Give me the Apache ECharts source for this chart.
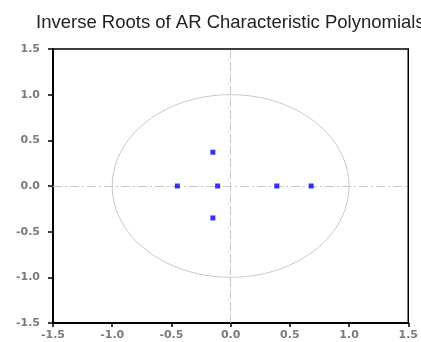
<!DOCTYPE html>
<html>
<head>
<meta charset="utf-8">
<script src="https://cdn.jsdelivr.net/npm/echarts@6/dist/echarts.min.js"></script>
<style>
  html, body { margin: 0; padding: 0; background: #fff; }
  #chart { width: 421px; height: 342px; }
</style>
</head>
<body>
<div id="chart"></div>
<script>
const rootsRe = [-0.15, -0.15, -0.45, -0.11, 0.39, 0.68]
const rootsIm = [0.37, -0.35, 0.0, 0.0, 0.0, 0.0]
const axisTicks = [-1.5, -1.0, -0.5, 0.0, 0.5, 1.0, 1.5]

// unit circle reference
const circleAngles = []
for (let a = 0; a <= 360; a += 3) circleAngles.push(a)
const unitCircle = circleAngles.map((a) => [Math.cos(a * Math.PI / 180), Math.sin(a * Math.PI / 180)])

const labelStyle = {
  color: '#7a7a7a',
  fontFamily: 'DejaVu Sans',
  fontSize: 11,
  fontWeight: 'bold',
  formatter: (v) => v.toFixed(1),
}

const chart = echarts.init(document.getElementById('chart'))
chart.setOption({
  animation: false,
  title: {
    text: 'Inverse Roots of AR Characteristic Polynomials',
    left: 31,
    top: 8,
    textStyle: { fontFamily: 'Liberation Sans', fontSize: 18.5, fontWeight: 'normal', color: '#222' },
  },
  grid: { left: 53, right: 11, top: 49, bottom: 19, show: true, borderColor: '#000', borderWidth: 1.5 },
  xAxis: {
    type: 'value',
    min: axisTicks[0],
    max: axisTicks[axisTicks.length - 1],
    interval: 0.5,
    axisLine: { show: true, onZero: false, lineStyle: { color: '#000', width: 2 } },
    axisTick: { show: true, inside: false, length: 4, lineStyle: { color: '#000', width: 1.5 } },
    axisLabel: { ...labelStyle, margin: 7 },
    splitLine: { show: false },
  },
  yAxis: {
    type: 'value',
    min: axisTicks[0],
    max: axisTicks[axisTicks.length - 1],
    interval: 0.5,
    axisLine: { show: true, onZero: false, lineStyle: { color: '#000', width: 2 } },
    axisTick: { show: true, inside: false, length: 5, lineStyle: { color: '#000', width: 1.5 } },
    axisLabel: { ...labelStyle, margin: 13 },
    splitLine: { show: false },
  },
  series: [
    {
      type: 'line',
      data: unitCircle,
      showSymbol: false,
      smooth: false,
      lineStyle: { color: '#c8c8c8', width: 1 },
      silent: true,
    },
    {
      type: 'scatter',
      data: rootsRe.map((r, i) => [r, rootsIm[i]]),
      symbol: 'rect',
      symbolSize: 5,
      itemStyle: { color: '#0000ff' },
      markLine: {
        silent: true,
        symbol: 'none',
        label: { show: false },
        data: [
          { xAxis: 0, lineStyle: { color: '#c8c8c8', width: 1, type: [9, 3] } },
          { yAxis: 0, lineStyle: { color: '#c8c8c8', width: 1, type: [9, 3, 2, 3] } },
        ],
      },
      z: 5,
    },
  ],
})
</script>
</body>
</html>
